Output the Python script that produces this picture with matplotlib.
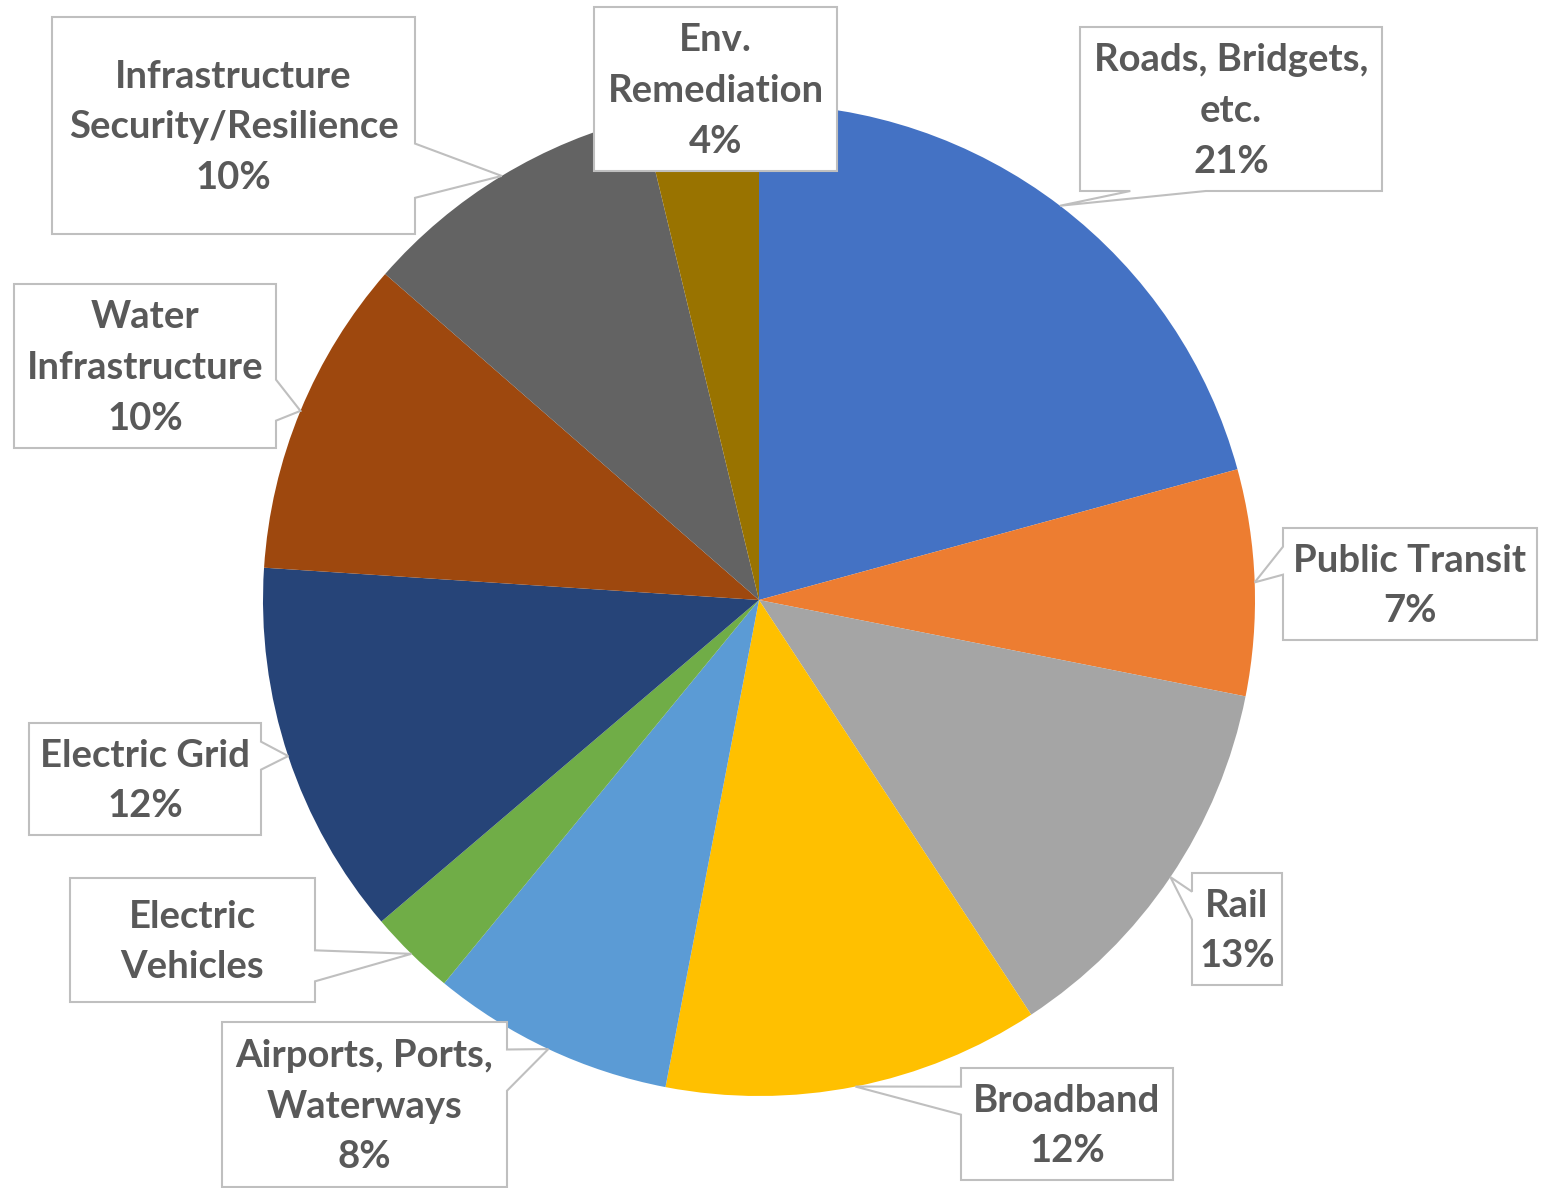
import matplotlib.pyplot as plt
from matplotlib.patches import Polygon
import numpy as np

# Datos (miles de millones, estimados de la figura)
categories = ['Roads, Bridgets,\netc.', 'Public Transit', 'Rail', 'Broadband',
              'Airports, Ports,\nWaterways', 'Electric\nVehicles', 'Electric Grid',
              'Water\nInfrastructure', 'Infrastructure\nSecurity/Resilience',
              'Env.\nRemediation']
values = [110, 39, 67, 65, 42, 15, 65, 55, 52, 20]
show_pct = [True, True, True, True, True, False, True, True, True, True]
colors = ['#4472C4', '#ED7D31', '#A5A5A5', '#FFC000', '#5B9BD5',
          '#70AD47', '#264478', '#9E480E', '#636363', '#997300']

# Cajas de etiquetas (x0, x1, y0, y1) en pixeles
boxes = [(1080, 1382, 27, 191), (1283, 1537, 528, 640), (1192, 1282, 873, 985),
         (961, 1173, 1068, 1180), (222, 507, 1022, 1187), (70, 315, 878, 1002),
         (29, 261, 723, 835), (14, 276, 284, 448), (52, 415, 17, 234),
         (594, 837, 7, 171)]

W, H = 1555, 1188
fig = plt.figure(figsize=(W / 100, H / 100), dpi=100)
ax = fig.add_axes([0, 0, 1, 1])

# eje y invertido: startangle=-90 y counterclock=True dan sentido horario desde arriba
wedges, _ = ax.pie(values, colors=colors, startangle=-90, counterclock=True,
                   center=(759, 600), radius=496, wedgeprops=dict(linewidth=0))
ax.set_xlim(0, W)
ax.set_ylim(H, 0)
ax.set_aspect('equal')
ax.axis('off')

total = sum(values)


def callout(box, tip):
    # rectangulo con puntero triangular hacia el sector
    x0, x1, y0, y1 = box
    cx, cy = (x0 + x1) / 2, (y0 + y1) / 2
    w, h = x1 - x0, y1 - y0
    tx, ty = tip
    pts = [(x0, y0), (x1, y0), (x1, y1), (x0, y1)]
    if x0 <= tx <= x1 and y0 <= ty <= y1:
        return pts
    dxn, dyn = (tx - cx) / w, (ty - cy) / h
    if abs(dxn) > abs(dyn):
        f = (1 / 6, 5 / 12) if ty < cy else (7 / 12, 5 / 6)
        a, b = y0 + f[0] * h, y0 + f[1] * h
        if dxn > 0:
            pts = [(x0, y0), (x1, y0), (x1, a), (tx, ty), (x1, b), (x1, y1), (x0, y1)]
        else:
            pts = [(x0, y0), (x1, y0), (x1, y1), (x0, y1), (x0, b), (tx, ty), (x0, a)]
    else:
        f = (1 / 6, 5 / 12) if tx < cx else (7 / 12, 5 / 6)
        a, b = x0 + f[0] * w, x0 + f[1] * w
        if dyn > 0:
            pts = [(x0, y0), (x1, y0), (x1, y1), (b, y1), (tx, ty), (a, y1), (x0, y1)]
        else:
            pts = [(x0, y0), (a, y0), (tx, ty), (b, y0), (x1, y0), (x1, y1), (x0, y1)]
    return pts


for wdg, name, v, sp, box in zip(wedges, categories, values, show_pct, boxes):
    th = np.deg2rad((wdg.theta1 + wdg.theta2) / 2)
    tip = (wdg.center[0] + wdg.r * np.cos(th), wdg.center[1] + wdg.r * np.sin(th))
    poly = Polygon(callout(box, tip), closed=True, facecolor='white',
                   edgecolor='#BFBFBF', linewidth=1.5, zorder=3)
    ax.add_patch(poly)
    txt = name + (f'\n{v / total * 100:.0f}%' if sp else '')
    ax.text((box[0] + box[1]) / 2, (box[2] + box[3]) / 2 + 2, txt,
            ha='center', va='center', multialignment='center',
            fontsize=27.5, fontweight='bold', color='#595959',
            family=['Lato', 'DejaVu Sans'], linespacing=1.6, zorder=4)

plt.savefig('out.png', dpi=100)
